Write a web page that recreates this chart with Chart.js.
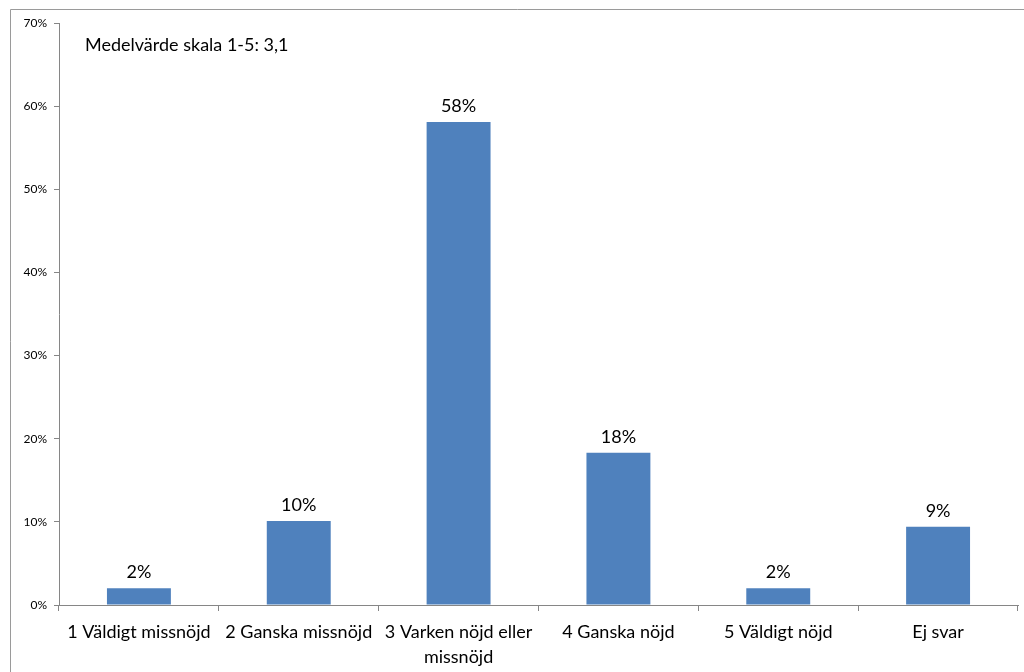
<!DOCTYPE html>
<html>
<head>
<meta charset="utf-8">
<script src="https://cdn.jsdelivr.net/npm/chart.js@4"></script>
<style>
  html, body { margin: 0; padding: 0; background: #fff; }
  #wrap { width: 1024px; height: 672px; position: relative; }
</style>
</head>
<body>
<div id="wrap"><canvas id="chart" width="1024" height="672"></canvas></div>
<script>
(function () {
  'use strict';

  var categories = [
    '1 Väldigt missnöjd',
    '2 Ganska missnöjd',
    ['3 Varken nöjd eller', 'missnöjd'],
    '4 Ganska nöjd',
    '5 Väldigt nöjd',
    'Ej svar'
  ];
  var values = [2.0, 10.1, 58.1, 18.3, 2.0, 9.4];
  var yTicks = [0, 10, 20, 30, 40, 50, 60, 70];
  var note = 'Medelvärde skala 1-5: 3,1';

  var FONT = 'Lato, "Open Sans", sans-serif';
  var AXIS = '#868686';

  // ram runt diagrammet, anteckning och dataetiketter
  var extras = {
    id: 'extras',
    beforeDraw: function (chart) {
      var ctx = chart.ctx;
      ctx.save();
      ctx.strokeStyle = '#9a9a9a';
      ctx.lineWidth = 1;
      ctx.beginPath();
      ctx.moveTo(10.5, 700);
      ctx.lineTo(10.5, 9.5);
      ctx.lineTo(1030, 9.5);
      ctx.stroke();
      ctx.restore();
    },
    afterDatasetsDraw: function (chart) {
      var ctx = chart.ctx;
      ctx.save();
      ctx.fillStyle = '#000';
      ctx.font = '18px ' + FONT;
      ctx.textAlign = 'left';
      ctx.textBaseline = 'alphabetic';
      ctx.fillText(note, 85, 51);

      ctx.textAlign = 'center';
      chart.getDatasetMeta(0).data.forEach(function (bar, i) {
        ctx.fillText(Math.round(values[i]) + '%', bar.x, bar.y - 10);
      });
      ctx.restore();
    }
  };

  new Chart(document.getElementById('chart'), {
    type: 'bar',
    plugins: [extras],
    data: {
      labels: categories,
      datasets: [{
        data: values,
        backgroundColor: '#4f81bd',
        borderWidth: 0,
        categoryPercentage: 1,
        barPercentage: 0.4
      }]
    },
    options: {
      responsive: false,
      animation: false,
      layout: { padding: { top: 23, right: 6, left: 0, bottom: 0 } },
      plugins: { legend: { display: false }, tooltip: { enabled: false } },
      scales: {
        x: {
          offset: true,
          grid: { offset: true, drawOnChartArea: false, drawTicks: true, tickLength: 6, color: AXIS },
          border: { color: AXIS },
          ticks: {
            color: '#000',
            font: { family: FONT, size: 18, lineHeight: 1.42 },
            padding: 8,
            maxRotation: 0,
            autoSkip: false
          },
          afterFit: function (scale) { scale.height = 67; }
        },
        y: {
          min: 0,
          max: 70,
          afterBuildTicks: function (scale) {
            scale.ticks = yTicks.map(function (v) { return { value: v }; });
          },
          grid: { drawOnChartArea: false, drawTicks: true, tickLength: 5, color: AXIS },
          border: { color: AXIS },
          ticks: {
            color: '#000',
            font: { family: FONT, size: 12 },
            padding: 7,
            callback: function (v) { return v + '%'; }
          },
          afterFit: function (scale) { scale.width = 59; }
        }
      }
    }
  });
})();
</script>
</body>
</html>
